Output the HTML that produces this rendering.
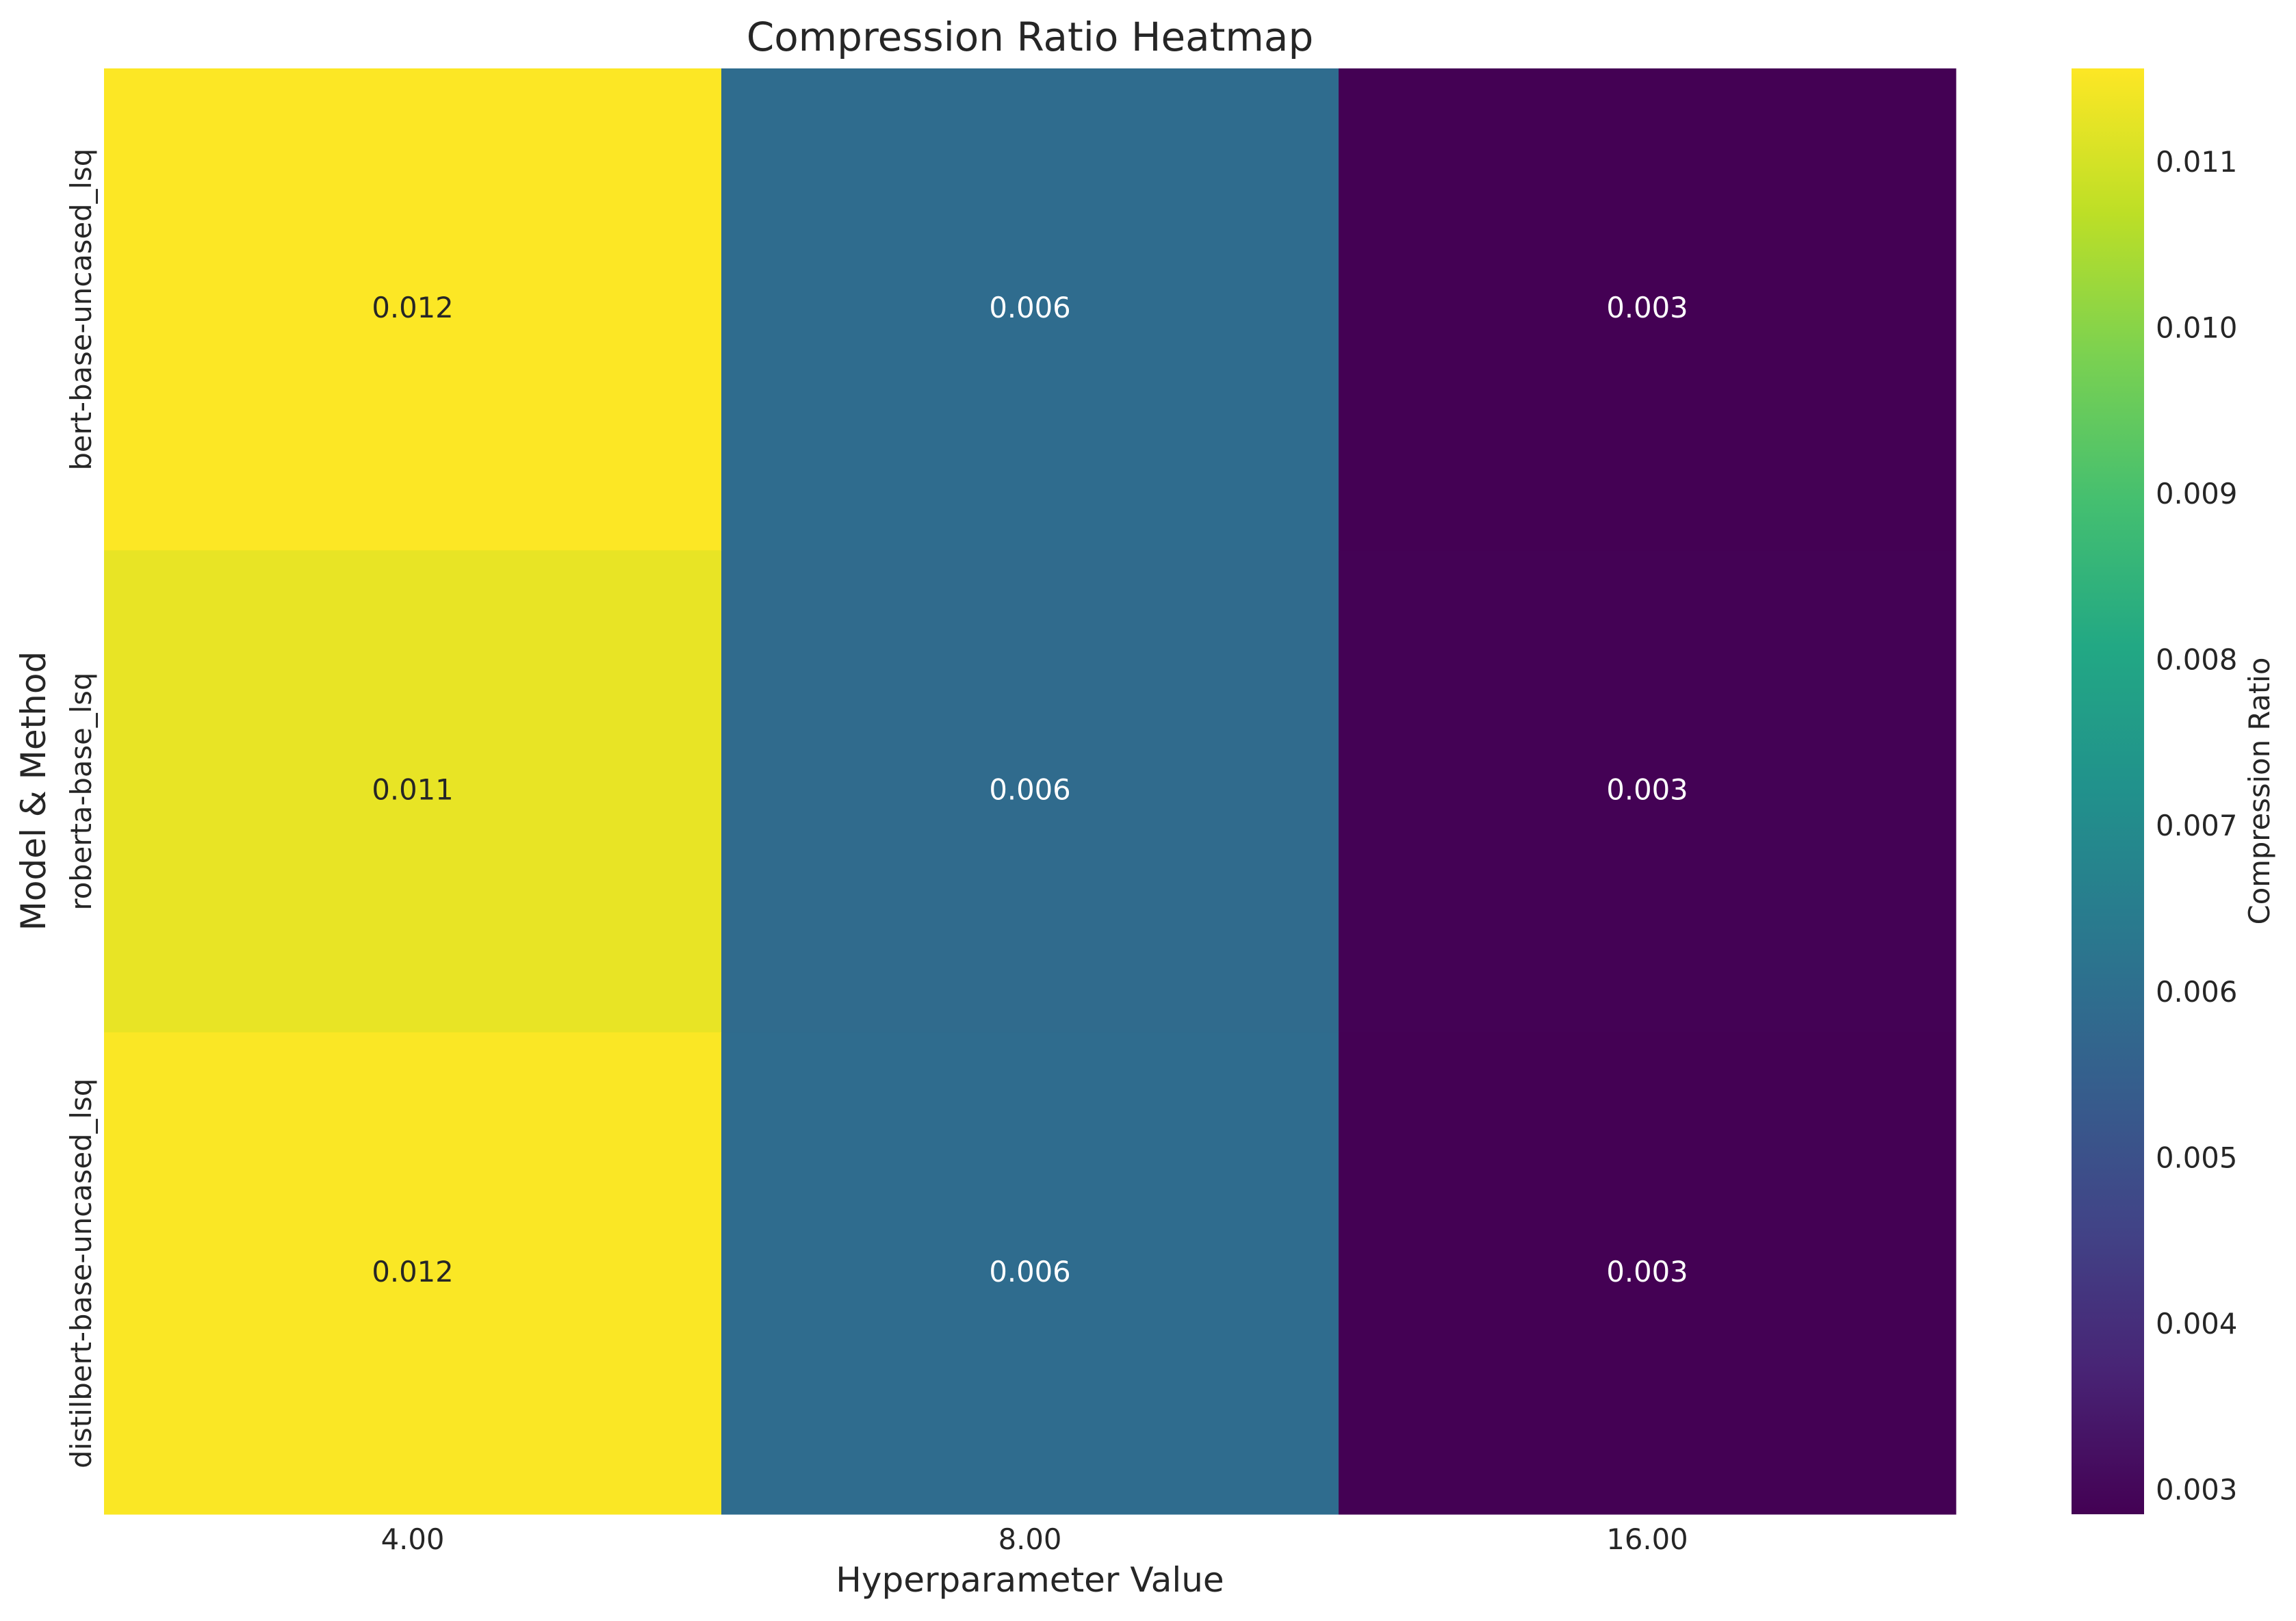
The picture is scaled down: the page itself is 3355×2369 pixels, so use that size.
<!DOCTYPE html>
<html><head><meta charset="utf-8"><style>
html,body{margin:0;padding:0;background:#fff;}
svg text{font-family:"DejaVu Sans","Liberation Sans",sans-serif;fill:#262626;}
</style></head><body>
<svg id="chart" width="3355" height="2364" viewBox="0 0 3355 2364" xmlns="http://www.w3.org/2000/svg">
<defs>
<linearGradient id="vir" x1="0" y1="1" x2="0" y2="0">
<stop offset="0" stop-color="#440154"/><stop offset="0.1" stop-color="#482475"/><stop offset="0.2" stop-color="#414487"/><stop offset="0.3" stop-color="#355f8d"/><stop offset="0.4" stop-color="#2a788e"/><stop offset="0.5" stop-color="#21918c"/><stop offset="0.6" stop-color="#22a884"/><stop offset="0.7" stop-color="#44bf70"/><stop offset="0.8" stop-color="#7ad151"/><stop offset="0.9" stop-color="#bddf26"/><stop offset="1" stop-color="#fde725"/>
</linearGradient>
</defs>
<text x="1505" y="74" font-size="58" text-anchor="middle">Compression Ratio Heatmap</text>
<g id="cells"></g>
<g id="xticks"></g>
<g id="yticks"></g>
<text x="1505" y="2326" font-size="50" text-anchor="middle">Hyperparameter Value</text>
<text transform="translate(66,1156) rotate(-90)" font-size="50" text-anchor="middle">Model &amp; Method</text>
<rect x="3027" y="100" width="106" height="2113" fill="url(#vir)"/>
<g id="cbticks"></g>
<text transform="translate(3316,1156) rotate(-90)" font-size="41.7" text-anchor="middle">Compression Ratio</text>
</svg>
<script>
const rowLabels = ["bert-base-uncased_lsq", "roberta-base_lsq", "distilbert-base-uncased_lsq"];
const colLabels = ["4.00", "8.00", "16.00"];
const row0 = [0.01155, 0.00590, 0.00285];
const row1 = [0.01128, 0.00588, 0.00287];
const row2 = [0.01152, 0.00590, 0.00285];
const annotations = [["0.012","0.006","0.003"],["0.011","0.006","0.003"],["0.012","0.006","0.003"]];
const cbTicks = [0.003,0.004,0.005,0.006,0.007,0.008,0.009,0.010,0.011];
const cbTickLabels = ["0.003","0.004","0.005","0.006","0.007","0.008","0.009","0.010","0.011"];
const vmin = 0.00285, vmax = 0.01156;

const NS = "http://www.w3.org/2000/svg";
const L = 152, R = 2858, T = 100, B = 2213;
const CB_T = 100, CB_B = 2213;
const rows = [row0, row1, row2];
const cw = (R - L) / colLabels.length, rh = (B - T) / rowLabels.length;
function xPos(i){ return L + i * cw; }
function yPos(j){ return T + j * rh; }
function cbY(v){ return CB_B - (v - vmin) / (vmax - vmin) * (CB_B - CB_T); }
const stops = ["#440154","#482475","#414487","#355f8d","#2a788e","#21918c","#22a884","#44bf70","#7ad151","#bddf26","#fde725"];
function hex(h){ return [parseInt(h.substr(1,2),16),parseInt(h.substr(3,2),16),parseInt(h.substr(5,2),16)]; }
function viridis(t){
  t = Math.max(0, Math.min(1, t));
  const p = t * 10, i = Math.min(9, Math.floor(p)), f = p - i;
  const a = hex(stops[i]), b = hex(stops[i+1]);
  return [0,1,2].map(k => Math.round(a[k] + (b[k]-a[k]) * f));
}
function mk(tag, attrs, parent){ const e = document.createElementNS(NS, tag); for (const k in attrs) e.setAttribute(k, attrs[k]); parent.appendChild(e); return e; }
const cells = document.getElementById("cells");
rows.forEach((vals, j) => {
  vals.forEach((v, i) => {
    const c = viridis((v - vmin) / (vmax - vmin));
    const r = mk("rect", {x: xPos(i), y: yPos(j), width: cw + 0.5, height: rh + 0.5, fill: `rgb(${c[0]},${c[1]},${c[2]})`}, cells);
    
    
    const lum = 0.299*c[0] + 0.587*c[1] + 0.114*c[2];
    const t = mk("text", {x: xPos(i) + cw/2, y: yPos(j) + rh/2 + 12, "font-size": 41.7, "text-anchor": "middle"}, cells);
    t.style.fill = lum > 128 ? "#262626" : "#ffffff";
    t.textContent = annotations[j][i];
    
    
  });
});
const xt = document.getElementById("xticks");
colLabels.forEach((lab, i) => {
  const t = mk("text", {x: xPos(i) + cw/2, y: 2264, "font-size": 41.7, "text-anchor": "middle"}, xt);
  t.textContent = lab;
  
  
});
const yt = document.getElementById("yticks");
rowLabels.forEach((lab, j) => {
  const cy = yPos(j) + rh/2;
  const t = mk("text", {transform: `translate(133,${cy}) rotate(-90)`, "font-size": 41.7, "text-anchor": "middle"}, yt);
  t.textContent = lab;
  
  
});
const cbt = document.getElementById("cbticks");
cbTicks.forEach((v, k) => {
  const t = mk("text", {x: 3150, y: cbY(v) + 15, "font-size": 41.7}, cbt);
  t.textContent = cbTickLabels[k];
  
  
});
</script>
</body></html>
